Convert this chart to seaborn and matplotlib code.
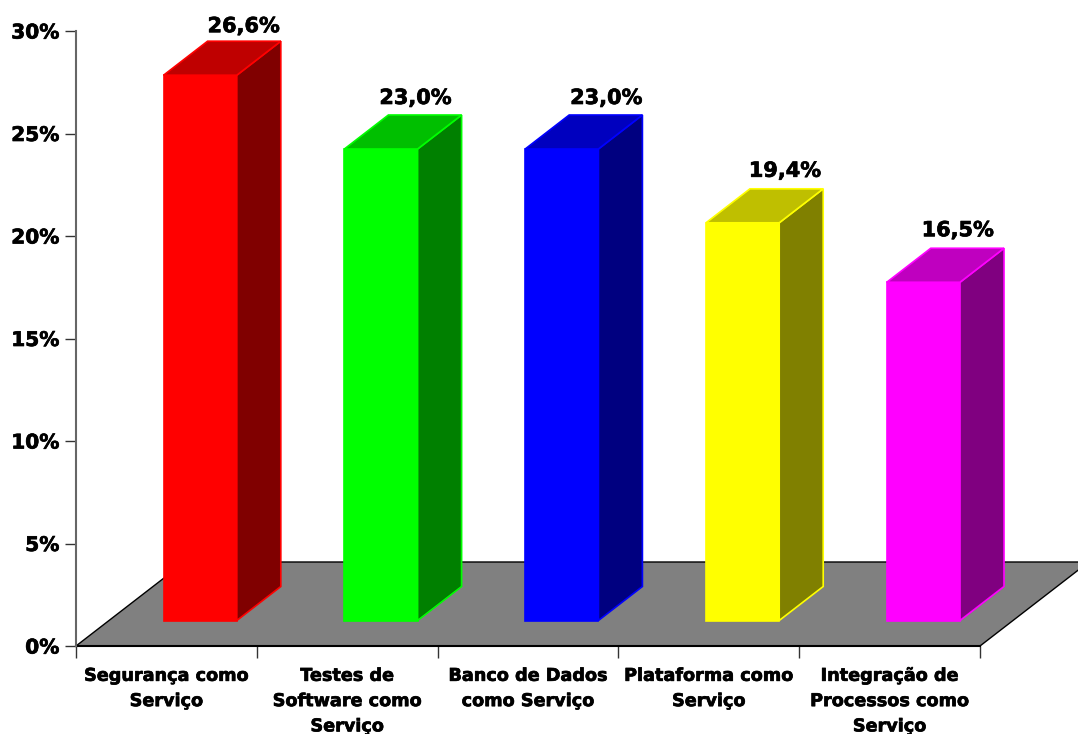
import pandas as pd
import seaborn as sns
import matplotlib.pyplot as plt
import matplotlib.patheffects as pe
from matplotlib.patches import Polygon
from matplotlib.colors import to_rgb

servicos = ['Segurança como\nServiço', 'Testes de\nSoftware como\nServiço', 'Banco de Dados\ncomo Serviço',
            'Plataforma como\nServiço', 'Integração de\nProcessos como\nServiço']
valores = [26.6, 23.0, 23.0, 19.4, 16.5]
rotulos = ['26,6%', '23,0%', '23,0%', '19,4%', '16,5%']
cores = ['#ff0000', '#00ff00', '#0000ff', '#ffff00', '#ff00ff']
yticks = [0, 5, 10, 15, 20, 25, 30]

df = pd.DataFrame({'servico': servicos, 'valor': valores})

sns.set_theme(style='white')
plt.rcParams['font.family'] = ['DejaVu Sans']

W, H = 1078, 734
fig = plt.figure(figsize=(W / 100, H / 100), dpi=100)
ax = fig.add_axes([76 / W, 1 - 646 / H, 904 / W, 615 / H])

sns.barplot(data=df, x='servico', y='valor', hue='servico', palette=cores, legend=False,
            width=0.405, saturation=1, ax=ax, zorder=3)
ax.set_xlim(-0.5, 4.5)
ax.set_ylim(0, 30)

# fake 3d: depth and floor offset, in data units
px_x = 5 / 904
px_y = 30 / 615
dx, dy = 44 * px_x, 34 * px_y
base = 25.5 * px_y
desloc = 33.8 * px_x
# small label nudges in pixels
nudge = [-1, -10, 0, -2, -10]
topo_y = [15, 17, 17, 18, 18]
negrito = [pe.withStroke(linewidth=0.5, foreground='black')]

# floor
fy = 84 * px_y
fdx = 84 * 44 / 34 * px_x
ax.add_patch(Polygon([(-0.5, 0), (4.5, 0), (4.5 + fdx, fy), (-0.5 + fdx, fy)], closed=True,
                     facecolor='#808080', edgecolor='black', lw=1, clip_on=False, zorder=1))

for i, (p, v, c) in enumerate(zip(ax.patches, valores, cores)):
    p.set_x(p.get_x() + desloc)
    p.set_y(base)
    p.set_edgecolor(c)
    p.set_linewidth(1.2)
    x0, x1 = p.get_x(), p.get_x() + p.get_width()
    y0, y1 = base, base + v
    r, g, b = to_rgb(c)
    # side and top faces
    ax.add_patch(Polygon([(x1, y0), (x1 + dx, y0 + dy), (x1 + dx, y1 + dy), (x1, y1)], closed=True,
                         facecolor=(r * 0.5, g * 0.5, b * 0.5), edgecolor=c, lw=1.2, zorder=3, clip_on=False))
    ax.add_patch(Polygon([(x0, y1), (x1, y1), (x1 + dx, y1 + dy), (x0 + dx, y1 + dy)], closed=True,
                         facecolor=(r * 0.75, g * 0.75, b * 0.75), edgecolor=c, lw=1.2, zorder=3, clip_on=False))
    ax.annotate(rotulos[i], xy=(x1 + dx, y1 + dy), xytext=(nudge[i] * 0.72, 0.72 * topo_y[i]),
                textcoords='offset points', ha='right', va='center', fontsize=15, fontweight='bold',
                color='black', annotation_clip=False, zorder=5, path_effects=negrito)

sns.despine(ax=ax)
ax.spines['left'].set_color('#666666')
ax.spines['left'].set_linewidth(1.5)
ax.spines['bottom'].set_color('black')
ax.spines['bottom'].set_linewidth(1.5)
ax.spines['bottom'].set_zorder(2)

ax.set_yticks(yticks)
ax.set_yticklabels([f'{t}%' for t in yticks], fontsize=14.5, fontweight='bold', color='black', path_effects=negrito)
ax.set_xticks([-0.5, 0.5, 1.5, 2.5, 3.5, 4.5])
ax.set_xticklabels([])
ax.set_xticks(range(5), minor=True)
ax.set_xticklabels(servicos, minor=True, fontsize=12.7, fontweight='bold', color='black', linespacing=1.52,
                   path_effects=negrito)
ax.tick_params(axis='y', which='major', left=True, length=8, width=1, color='#333333', pad=4)
ax.tick_params(axis='x', which='major', bottom=True, length=8.5, width=1, color='#333333')
ax.tick_params(axis='x', which='minor', bottom=False, length=0, pad=15)
ax.set_xlabel('')
ax.set_ylabel('')
ax.grid(False)

fig.savefig('out.png', dpi=100)
